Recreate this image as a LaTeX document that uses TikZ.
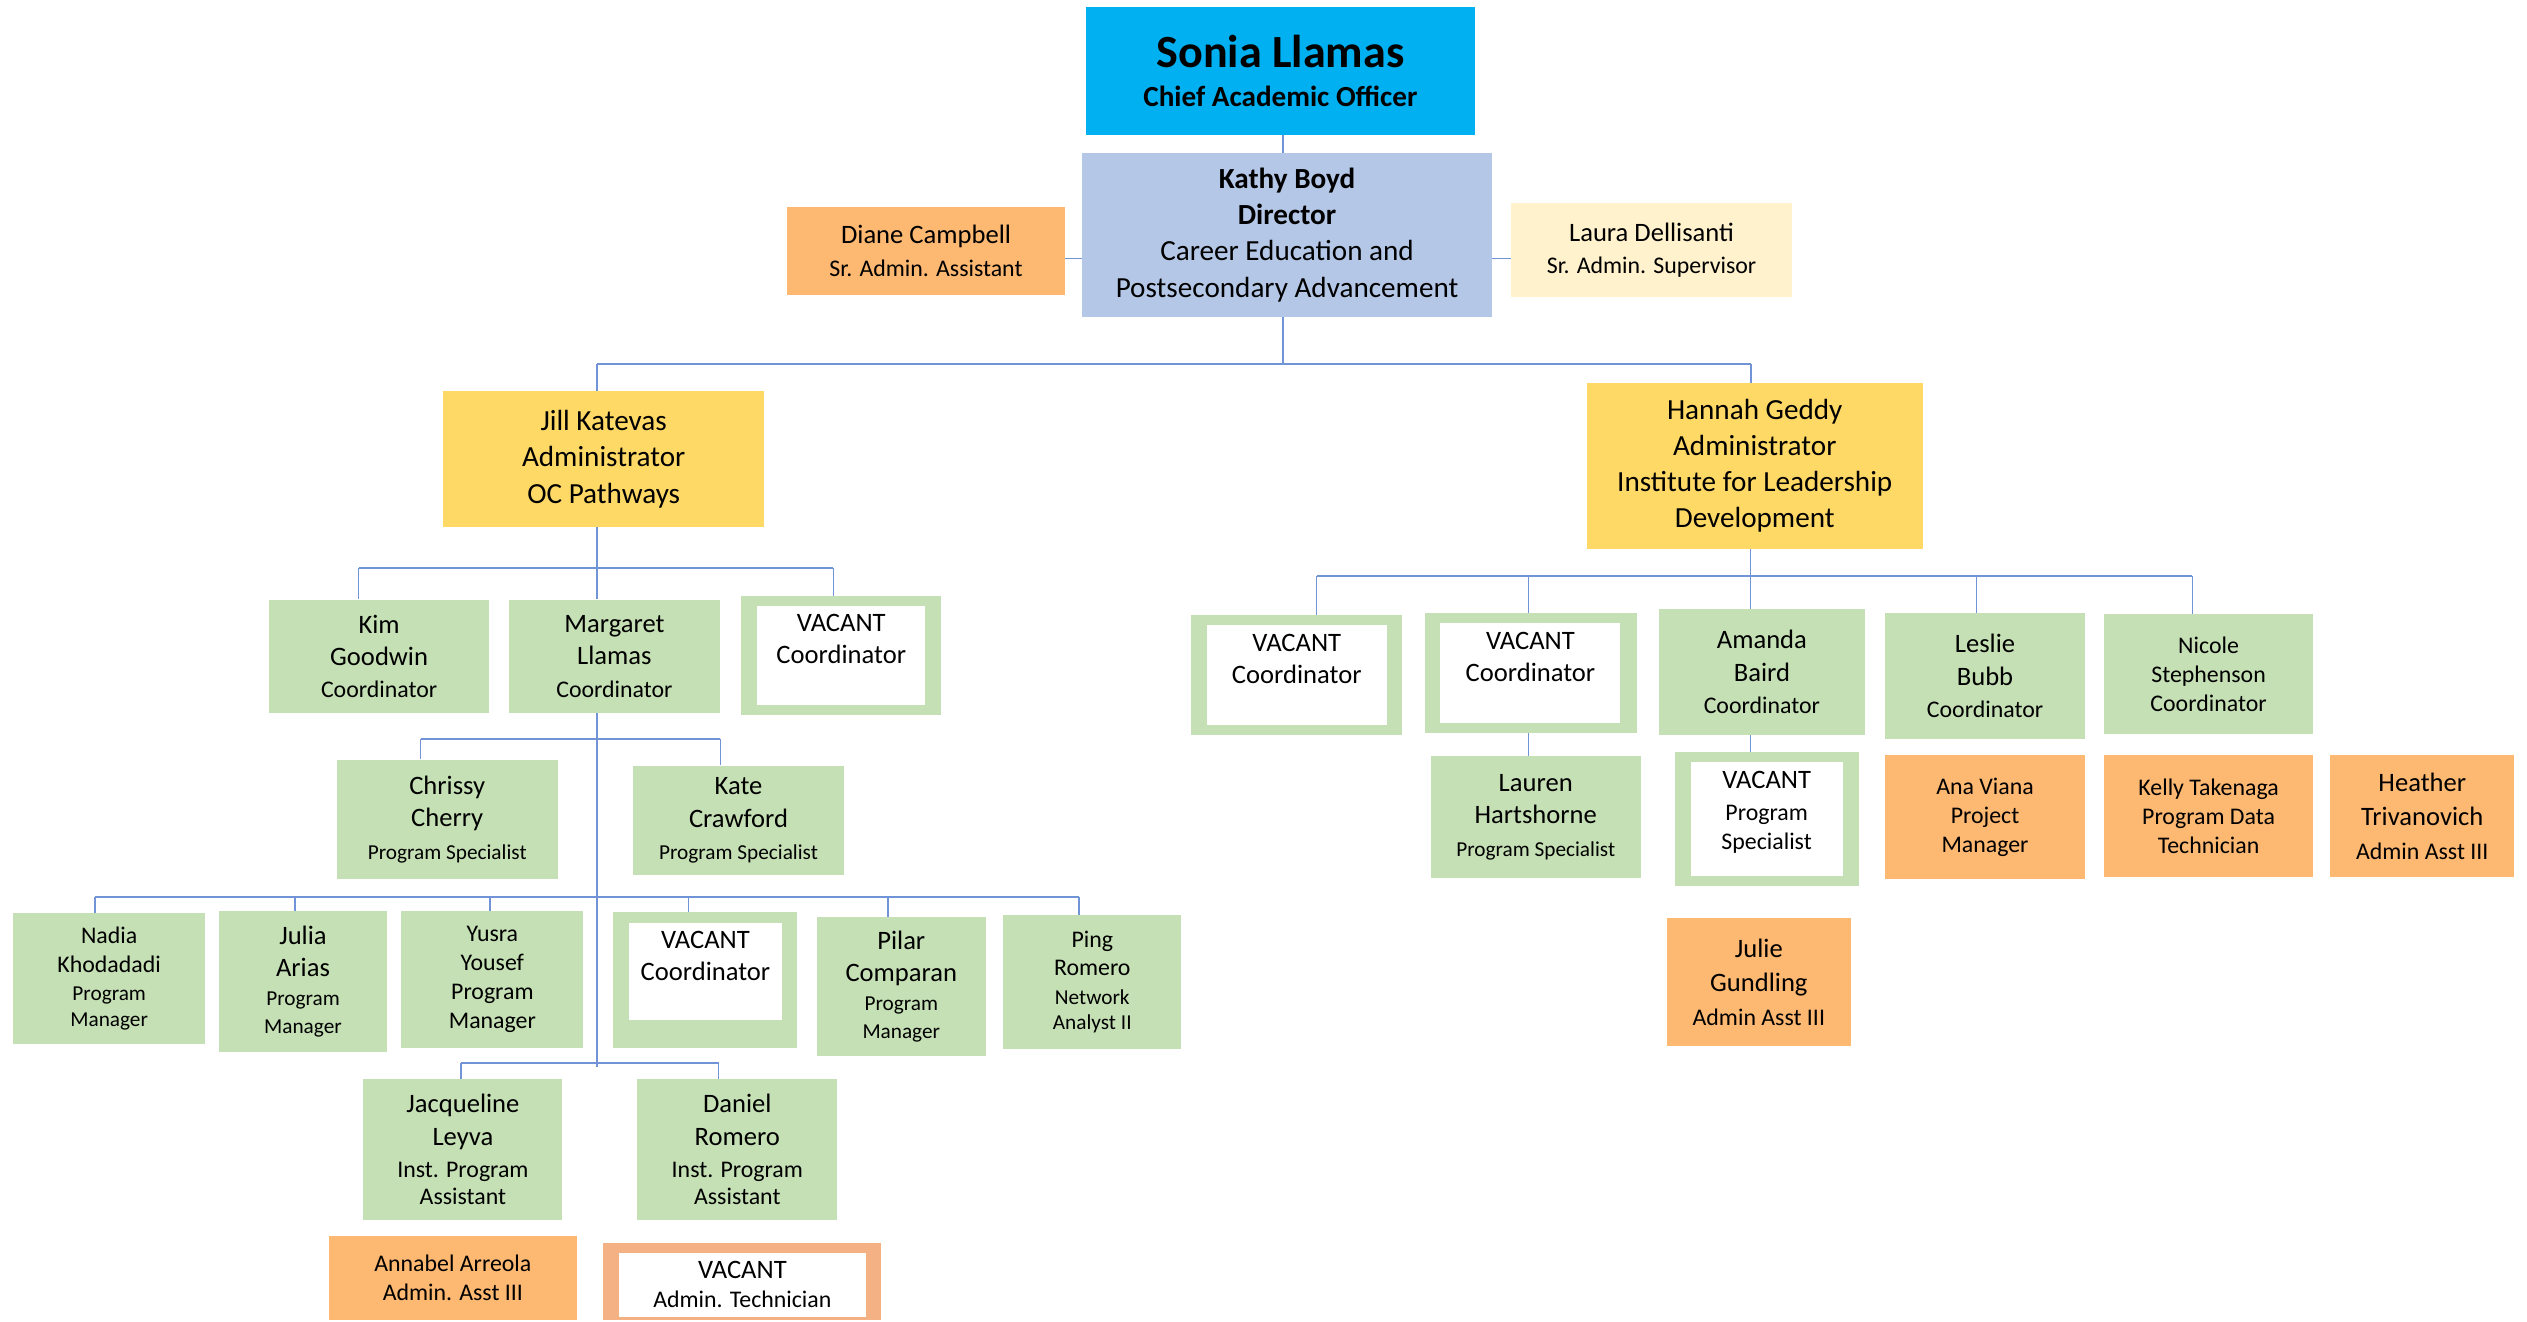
\documentclass[tikz,border=0pt]{standalone}
\usepackage{fontspec}
\setmainfont{Carlito}
\usetikzlibrary{positioning}

\definecolor{skyblue}{HTML}{00B0F0}
\definecolor{steel}{HTML}{B4C7E7}
\definecolor{gold}{HTML}{FFD966}
\definecolor{cream}{HTML}{FFF2CC}
\definecolor{mint}{HTML}{C5E0B4}
\definecolor{apricot}{HTML}{FDB872}
\definecolor{salmon}{HTML}{F4B183}
\definecolor{wire}{HTML}{7094D6}

\newcommand{\fbig}{\fontsize{28.6}{30}\selectfont}
\newcommand{\fmain}{\fontsize{18.1}{22.5}\selectfont}
\newcommand{\fname}{\fontsize{16.5}{20}\selectfont}
\newcommand{\frole}{\fontsize{14.8}{18}\selectfont}
\newcommand{\fsmall}{\fontsize{13.2}{16.5}\selectfont}

\begin{document}
\begin{tikzpicture}[x=1pt, y=-1pt,
    box/.style={rectangle, inner sep=0pt, align=center, font=\fname},
    chief/.style={box, fill=skyblue},
    director/.style={box, fill=steel, font=\fmain},
    admin/.style={box, fill=gold, font=\fmain},
    aide/.style={box, fill=cream},
    staff/.style={box, fill=mint},
    clerk/.style={box, fill=apricot},
    hole/.style={box, fill=white},
    tag/.style={inner sep=0pt, align=center, font=\fname},
    link/.style={draw=wire, line width=0.8pt},
    bus/.style={draw=wire, line width=1.2pt}]
      \useasboundingbox (0,0) rectangle (1568,819.7);

      % top of the chart
      \node[chief, minimum width=241pt, minimum height=79pt, font=\fmain] (sonia) at (794.5,44) {{\fbig\bfseries Sonia Llamas}\\[2pt]\textbf{Chief Academic Officer}};
      \node[director, minimum width=254.4pt, minimum height=101.4pt] (kathy) at (798.6,145.8) {\textbf{Kathy Boyd}\\\textbf{Director}\\Career Education and\\Postsecondary Advancement};
      \node[clerk, minimum width=172.5pt, minimum height=54.5pt] (diane) at (574.6,155.6) {Diane Campbell\\{\frole Sr. Admin. Assistant}};
      \node[aide, minimum width=174.4pt, minimum height=58.3pt] (laura) at (1024.8,155) {Laura Dellisanti\\{\frole Sr. Admin. Supervisor}};
      \node[admin, minimum width=199.4pt, minimum height=84.3pt] (jill) at (374.6,284.8) {Jill Katevas\\Administrator\\OC Pathways};
      \node[admin, minimum width=208.4pt, minimum height=102.8pt] (hannah) at (1088.8,289) {Hannah Geddy\\Administrator\\Institute for Leadership\\Development};

      % OC Pathways
      \node[staff, minimum width=136.5pt, minimum height=70.5pt] (kim) at (235.25,407.25) {Kim\\Goodwin\\{\frole Coordinator}};
      \node[staff, minimum width=130.5pt, minimum height=70.5pt] (margaret) at (381.25,407.25) {Margaret\\Llamas\\{\frole Coordinator}};
      \node[staff, minimum width=124pt, minimum height=74pt] (vacj) at (522,406.7) {};
      \node[hole, minimum width=104pt, minimum height=61.7pt] (vacj-in) at (522,406.85) {};
      \node[tag, below=5pt of vacj-in.north] (vacj-t) {VACANT\\Coordinator};
      \node[staff, minimum width=137pt, minimum height=74.1pt] (chrissy) at (277.5,508.45) {Chrissy\\Cherry\\{\fsmall Program Specialist}};
      \node[staff, minimum width=130.5pt, minimum height=68pt] (kate) at (458.25,509) {Kate\\Crawford\\{\fsmall Program Specialist}};
      \node[staff, minimum width=119.5pt, minimum height=80.7pt, font=\frole] (nadia) at (67.75,607.15) {Nadia\\Khodadadi\\[-1pt]{\fsmall Program}\\[-2pt]{\fsmall Manager}};
      \node[staff, minimum width=104pt, minimum height=87.3pt] (julia) at (188,608.95) {Julia\\Arias\\[-2pt]{\fsmall Program}\\[-3pt]{\fsmall Manager}};
      \node[staff, minimum width=113pt, minimum height=84.7pt, font=\frole] (yusra) at (305.5,607.65) {Yusra\\Yousef\\Program\\Manager};
      \node[staff, minimum width=114pt, minimum height=84.1pt] (vacm) at (437.5,607.95) {};
      \node[hole, minimum width=94.5pt, minimum height=60.2pt] (vacm-in) at (437.75,602.9) {};
      \node[tag, below=5pt of vacm-in.north] (vacm-t) {VACANT\\Coordinator};
      \node[staff, minimum width=104.5pt, minimum height=86pt] (pilar) at (559.25,612) {Pilar\\Comparan\\[-2pt]{\fsmall Program}\\[-3pt]{\fsmall Manager}};
      \node[staff, minimum width=110.5pt, minimum height=83pt, font=\frole] (ping) at (677.75,609.5) {Ping\\[-1pt]Romero\\{\fsmall Network}\\[-2pt]{\fsmall Analyst II}};
      \node[staff, minimum width=123.5pt, minimum height=87.2pt] (jacqueline) at (287.25,713.4) {Jacqueline\\Leyva\\{\frole Inst. Program}\\[-3pt]{\frole Assistant}};
      \node[staff, minimum width=124pt, minimum height=87.2pt] (daniel) at (457.5,713.4) {Daniel\\Romero\\{\frole Inst. Program}\\[-3pt]{\frole Assistant}};
      \node[clerk, minimum width=154pt, minimum height=52.3pt, font=\frole] (annabel) at (281,793.15) {Annabel Arreola\\Admin. Asst III};
      \node[box, fill=salmon, minimum width=172.2pt, minimum height=48pt] (vacat) at (460.3,795.3) {};
      \node[hole, minimum width=152.9pt, minimum height=39.5pt, font=\frole] (vacat-in) at (460.65,797.25) {{\fname VACANT}\\Admin. Technician};

      % Institute for Leadership Development
      \node[staff, minimum width=131pt, minimum height=74.2pt] (vac1) at (804.5,418.9) {};
      \node[hole, minimum width=111.7pt, minimum height=61.8pt] (vac1-in) at (804.65,418.9) {};
      \node[tag, below=5.5pt of vac1-in.north] (vac1-t) {VACANT\\Coordinator};
      \node[staff, minimum width=132pt, minimum height=74.3pt] (vac2) at (950,417.65) {};
      \node[hole, minimum width=111.7pt, minimum height=61.9pt] (vac2-in) at (949.65,417.65) {};
      \node[tag, below=5.5pt of vac2-in.north] (vac2-t) {VACANT\\Coordinator};
      \node[staff, minimum width=127.5pt, minimum height=78pt] (amanda) at (1093.25,417) {Amanda\\Baird\\{\frole Coordinator}};
      \node[staff, minimum width=124.2pt, minimum height=78pt] (leslie) at (1231.7,419.5) {Leslie\\Bubb\\{\frole Coordinator}};
      \node[staff, minimum width=129.2pt, minimum height=74.4pt, font=\frole] (nicole) at (1370.4,418.2) {Nicole\\Stephenson\\Coordinator};
      \node[staff, minimum width=130.2pt, minimum height=76pt] (lauren) at (952.9,507) {Lauren\\Hartshorne\\{\fsmall Program Specialist}};
      \node[staff, minimum width=113.9pt, minimum height=83pt] (vacps) at (1096.25,508.3) {};
      \node[hole, minimum width=94.4pt, minimum height=70.8pt] (vacps-in) at (1096.2,508.4) {};
      \node[tag, below=5.5pt of vacps-in.north] (vacps-t) {VACANT\\{\frole Program}\\[-2pt]{\frole Specialist}};
      \node[clerk, minimum width=124.2pt, minimum height=76.7pt, font=\frole] (ana) at (1231.7,507.05) {Ana Viana\\Project\\Manager};
      \node[clerk, minimum width=129.2pt, minimum height=75.3pt, font=\frole] (kelly) at (1370.4,506.35) {Kelly Takenaga\\Program Data\\Technician};
      \node[clerk, minimum width=114pt, minimum height=75.3pt] (heather) at (1503,506.35) {Heather\\[1pt]Trivanovich\\[1pt]{\frole Admin Asst III}};
      \node[clerk, minimum width=113.9pt, minimum height=79.2pt] (julie) at (1091.35,609.4) {Julie\\[1pt]Gundling\\[1pt]{\frole Admin Asst III}};

      % where the lines meet
      \coordinate (k-side) at (796,160.3);
      \coordinate (top-l) at (370.5,226);
      \coordinate (top-r) at (1086.5,226);
      \coordinate (j-kim) at (222.5,352.2);
      \coordinate (j-vac) at (517,352.2);
      \coordinate (m-chr) at (261,458.8);
      \coordinate (m-kat) at (447,458.8);
      \coordinate (m-nad) at (59,556.3);
      \coordinate (m-jul) at (183,556.3);
      \coordinate (m-yus) at (304,556.3);
      \coordinate (m-vac) at (427,556.3);
      \coordinate (m-pil) at (551,556.3);
      \coordinate (m-pin) at (669.5,556.3);
      \coordinate (m-jac) at (286,659.8);
      \coordinate (m-dan) at (446,659.8);
      \coordinate (m-end) at (370.5,662);
      \coordinate (h-v1) at (817,357.3);
      \coordinate (h-v2) at (948.3,357.3);
      \coordinate (h-am) at (1086.2,357.3);
      \coordinate (h-le) at (1226.3,357.3);
      \coordinate (h-ni) at (1360.3,357.3);

      \draw[link] (k-side |- sonia.south) -- (k-side |- kathy.north);
      \draw[link] (diane.east |- k-side) -- (kathy.west |- k-side);
      \draw[link] (kathy.east |- k-side) -- (laura.west |- k-side);
      \draw[link] (k-side |- kathy.south) -- (k-side |- top-l);
      \draw[bus] (top-l) -- (top-r);
      \draw[link] (top-l) -- (top-l |- jill.north);
      \draw[link] (top-r) -- (top-r |- hannah.north);

      \draw[link] (top-l |- jill.south) -- (top-l |- margaret.north);
      \draw[bus] (j-kim) -- (j-vac);
      \draw[link] (j-kim) -- (j-kim |- kim.north);
      \draw[link] (j-vac) -- (j-vac |- vacj.north);
      \draw[link] (top-l |- margaret.south) -- (m-end);
      \draw[bus] (m-chr) -- (m-kat);
      \draw[link] (m-chr) -- (m-chr |- chrissy.north);
      \draw[link] (m-kat) -- (m-kat |- kate.north);
      \draw[bus] (m-nad) -- (m-pin);
      \draw[link] (m-nad) -- (m-nad |- nadia.north);
      \draw[link] (m-jul) -- (m-jul |- julia.north);
      \draw[link] (m-yus) -- (m-yus |- yusra.north);
      \draw[link] (m-vac) -- (m-vac |- vacm.north);
      \draw[link] (m-pil) -- (m-pil |- pilar.north);
      \draw[link] (m-pin) -- (m-pin |- ping.north);
      \draw[bus] (m-jac) -- (m-dan);
      \draw[link] (m-jac) -- (m-jac |- jacqueline.north);
      \draw[link] (m-dan) -- (m-dan |- daniel.north);

      \draw[link] (h-am |- hannah.south) -- (h-am);
      \draw[bus] (h-v1) -- (h-ni);
      \draw[link] (h-v1) -- (h-v1 |- vac1.north);
      \draw[link] (h-v2) -- (h-v2 |- vac2.north);
      \draw[link] (h-am) -- (h-am |- amanda.north);
      \draw[link] (h-le) -- (h-le |- leslie.north);
      \draw[link] (h-ni) -- (h-ni |- nicole.north);
      \draw[link] (h-v2 |- vac2.south) -- (h-v2 |- lauren.north);
      \draw[link] (h-am |- amanda.south) -- (h-am |- vacps.north);
\end{tikzpicture}
\end{document}
